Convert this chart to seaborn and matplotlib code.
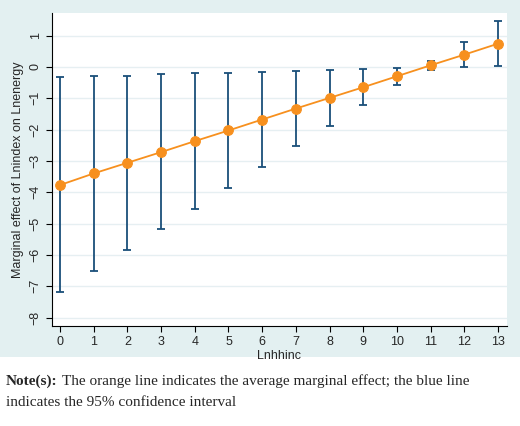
import numpy as np
import pandas as pd
import matplotlib
matplotlib.use('Agg')
import matplotlib.pyplot as plt
import seaborn as sns

# values
lnhhinc = list(range(14))
effect = [-3.77, -3.40, -3.06, -2.72, -2.37, -2.03, -1.68, -1.33, -0.99, -0.65, -0.30, 0.05, 0.39, 0.74]
ci_upper = [-0.33, -0.30, -0.28, -0.24, -0.20, -0.18, -0.15, -0.13, -0.10, -0.06, -0.02, 0.19, 0.80, 1.46]
ci_lower = [-7.19, -6.53, -5.85, -5.19, -4.53, -3.87, -3.20, -2.54, -1.88, -1.22, -0.57, -0.09, 0.00, 0.03]

BG = '#e3f0f1'
BLUE = '#1a4f7a'
ORANGE = '#f7901e'

sns.set_style('white')
plt.rcParams['font.family'] = ['Liberation Sans', 'DejaVu Sans']

df = pd.DataFrame({'x': lnhhinc, 'y': effect, 'lo': ci_lower, 'hi': ci_upper})

fig = plt.figure(figsize=(5.2, 4.26), dpi=100)
fig.patch.set_facecolor('white')
# light band behind the graph area
fig.patches.append(plt.Rectangle((0, 1 - 357 / 426), 1, 357 / 426, transform=fig.transFigure,
                                 facecolor=BG, edgecolor='none', zorder=-5))
ax = fig.add_axes([52 / 520, 1 - 326 / 426, 455 / 520, 313 / 426])
ax.set_zorder(2)
ax.set_facecolor('white')

for y in range(-8, 2):
    ax.axhline(y, color='#e6eff2', lw=1, zorder=0)

ax.errorbar(df['x'], (df['lo'] + df['hi']) / 2, yerr=(df['hi'] - df['lo']) / 2,
            fmt='none', ecolor=BLUE, elinewidth=1.3, capsize=3, capthick=1.3, zorder=2)
sns.lineplot(data=df, x='x', y='y', ax=ax, color=ORANGE, marker='o', markersize=7,
             markeredgecolor=ORANGE, lw=1.3, zorder=3)

ax.set_xlim(-0.24, 13.27)
ax.set_ylim(-8.27, 1.72)
ax.set_xticks(lnhhinc)
ax.set_yticks(range(-8, 2))
ax.tick_params(axis='y', labelrotation=90, labelsize=9, length=4, color='black', left=True)
ax.tick_params(axis='x', labelsize=9, length=4, color='black', bottom=True)
for t in ax.get_yticklabels():
    t.set_va('center')
ax.set_xlabel('Lnhhinc', fontsize=9, labelpad=1)
ax.set_ylabel('Marginal effect of Lnindex on Lnenergy', fontsize=9)
for s in ['top', 'right']:
    ax.spines[s].set_visible(False)
for s in ['left', 'bottom']:
    ax.spines[s].set_color('black')
    ax.spines[s].set_linewidth(0.8)

fig.text(6 / 520, 1 - 381 / 426, 'Note(s):', fontweight='bold', family='Liberation Serif',
         fontsize=11, va='center')
fig.text(62 / 520, 1 - 381 / 426,
         'The orange line indicates the average marginal effect; the blue line',
         family='Liberation Serif', fontsize=11, va='center')
fig.text(6 / 520, 1 - 402 / 426, 'indicates the 95% confidence interval',
         family='Liberation Serif', fontsize=11, va='center')

fig.savefig('out.png', dpi=100)
